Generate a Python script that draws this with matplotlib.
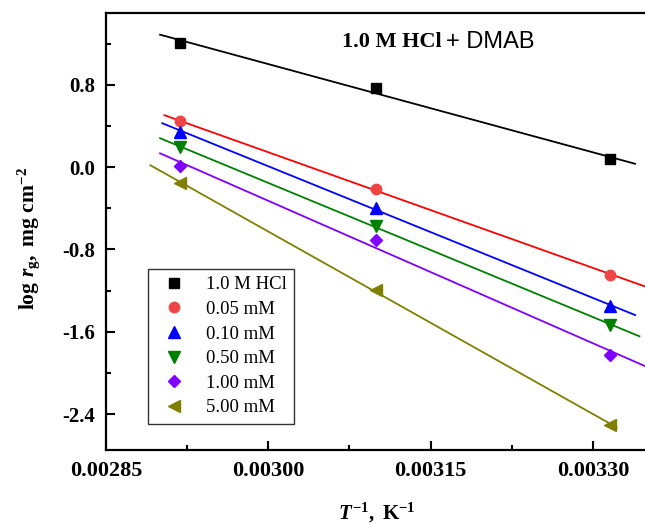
import numpy as np
import matplotlib.pyplot as plt
from matplotlib.ticker import MultipleLocator, FormatStrFormatter

plt.rcParams['font.family'] = ['Liberation Serif', 'DejaVu Serif']
plt.rcParams['axes.unicode_minus'] = False
plt.rcParams['mathtext.fontset'] = 'custom'
plt.rcParams['mathtext.rm'] = 'Liberation Serif:bold'
plt.rcParams['mathtext.bf'] = 'Liberation Serif:bold'
plt.rcParams['mathtext.it'] = 'Liberation Serif:italic:bold'

# inverse temperature, K^-1
inv_T = [0.002918, 0.003100, 0.003316]

labels = ['1.0 M HCl', '0.05 mM', '0.10 mM', '0.50 mM', '1.00 mM', '5.00 mM']
log_rg = [
    [1.21, 0.768, 0.076],
    [0.445, -0.214, -1.046],
    [0.347, -0.394, -1.35],
    [0.193, -0.567, -1.536],
    [0.008, -0.707, -1.823],
    [-0.155, -1.19, -2.507],
]
# range over which the fitted lines are drawn
fit_start = [0.00290, 0.002904, 0.002902, 0.00290, 0.00290, 0.002891]
fit_end = [0.003339, 0.00335, 0.003339, 0.003343, 0.00335, 0.003322]

markers = ['s', 'o', '^', 'v', 'D', '<']
msizes = [6.5, 7.5, 8, 8, 6.5, 8]
mcolors = ['black', '#f04545', '#0000ff', '#008000', '#8000ff', '#808000']
lcolors = ['black', '#ff0000', '#0000ff', '#008000', '#8000ff', '#808000']

fig = plt.figure(figsize=(6.45, 5.24), dpi=100)
ax = fig.add_axes([106/645, 1-450/524, 541/645, 437/524])

handles = []
for i in range(len(labels)):
    k, b = np.polyfit(inv_T, log_rg[i], 1)
    xx = np.array([fit_start[i], fit_end[i]])
    ax.plot(xx, k*xx + b, color=lcolors[i], lw=1.3, zorder=2)
    h, = ax.plot(inv_T, log_rg[i], linestyle='none', marker=markers[i],
                 ms=msizes[i], color=mcolors[i], label=labels[i], zorder=3)
    handles.append(h)

ax.set_xlim(0.00285, 0.00335)
ax.set_ylim(-2.75, 1.5)
ax.xaxis.set_major_locator(MultipleLocator(0.00015))
ax.xaxis.set_minor_locator(MultipleLocator(0.000075))
ax.xaxis.set_major_formatter(FormatStrFormatter('%.5f'))
ax.yaxis.set_major_locator(MultipleLocator(0.8))
ax.yaxis.set_minor_locator(MultipleLocator(0.4))
ax.yaxis.set_major_formatter(FormatStrFormatter('%.1f'))

ax.tick_params(which='both', direction='in', width=1.5, top=False, right=False)
ax.tick_params(which='major', length=6.5, pad=8)
ax.tick_params(which='minor', length=3.5)
ax.tick_params(axis='x', labelsize=16)
ax.tick_params(axis='y', labelsize=15)
for lab in ax.get_xticklabels() + ax.get_yticklabels():
    lab.set_fontweight('bold')
for s in ax.spines.values():
    s.set_linewidth(1.6)

ax.set_xlabel(r'$\mathit{T}^{-1}\mathrm{,\ K}^{-1}$', fontsize=15, labelpad=14)
ax.set_ylabel(r'$\mathrm{log}\ \mathit{r}_\mathrm{g}\mathrm{,\ mg\ cm}^{-2}$', fontsize=15.5)
ax.yaxis.set_label_coords(-0.118, 0.484)

ax.text(0.003068, 1.22, '1.0 M HCl', fontsize=16, fontweight='bold', va='center')
ax.text(0.003164, 1.22, '+ DMAB', fontsize=17, family='Liberation Sans', va='center')

leg = ax.legend(handles=handles, loc='lower left', bbox_to_anchor=(0.0776, 0.0596),
                borderaxespad=0, fontsize=13.5, frameon=True, fancybox=False,
                edgecolor='black', handletextpad=0.7, labelspacing=0.4,
                borderpad=0.4, handlelength=2.0)
leg.get_frame().set_linewidth(1.0)

plt.savefig('out.png', dpi=100)
